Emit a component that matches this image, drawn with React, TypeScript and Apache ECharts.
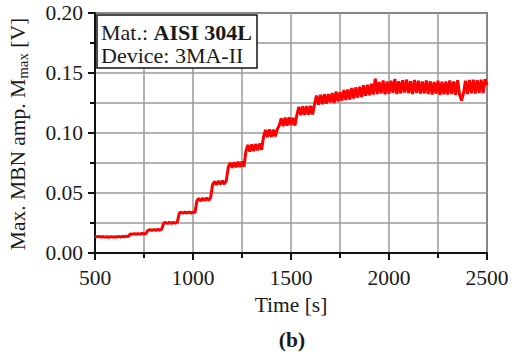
import React, { useEffect, useRef } from "react";
import * as echarts from "echarts";

// Time axis sampling: every 10 s from 500 s to 2500 s
const tStart = 500;
const tStep = 10;

// Max. MBN amplitude [V] (one row = 100 s)
const mmax: number[] = [
  0.0140, 0.0134, 0.0139, 0.0133, 0.0137, 0.0132, 0.0136, 0.0131, 0.0137, 0.0132,
  0.0136, 0.0132, 0.0138, 0.0133, 0.0139, 0.0134, 0.0141, 0.0136, 0.0159, 0.0155,
  0.0161, 0.0156, 0.0162, 0.0157, 0.0163, 0.0158, 0.0162, 0.0189, 0.0194, 0.0188,
  0.0195, 0.0189, 0.0196, 0.0190, 0.0197, 0.0248, 0.0254, 0.0246, 0.0255, 0.0247,
  0.0256, 0.0248, 0.0257, 0.0332, 0.0340, 0.0331, 0.0341, 0.0333, 0.0342, 0.0332,
  0.0341, 0.0336, 0.0435, 0.0455, 0.0433, 0.0458, 0.0436, 0.0460, 0.0438, 0.0462,
  0.0570, 0.0596, 0.0568, 0.0600, 0.0572, 0.0602, 0.0574, 0.0604, 0.0715, 0.0752,
  0.0710, 0.0756, 0.0714, 0.0760, 0.0716, 0.0762, 0.0720, 0.0848, 0.0900, 0.0846,
  0.0905, 0.0850, 0.0908, 0.0855, 0.0912, 0.0860, 0.0970, 0.1025, 0.0965, 0.1030,
  0.0968, 0.1028, 0.0972, 0.1032, 0.1062, 0.1122, 0.1058, 0.1128, 0.1062, 0.1130,
  0.1065, 0.1125, 0.1062, 0.1150, 0.1218, 0.1148, 0.1222, 0.1150, 0.1225, 0.1152,
  0.1226, 0.1155, 0.1240, 0.1312, 0.1236, 0.1318, 0.1240, 0.1322, 0.1245, 0.1325,
  0.1255, 0.1332, 0.1250, 0.1345, 0.1262, 0.1340, 0.1270, 0.1358, 0.1275, 0.1362,
  0.1280, 0.1375, 0.1288, 0.1380, 0.1295, 0.1385, 0.1300, 0.1398, 0.1310, 0.1402,
  0.1315, 0.1410, 0.1320, 0.1452, 0.1325, 0.1425, 0.1330, 0.1438, 0.1322, 0.1430,
  0.1328, 0.1435, 0.1335, 0.1450, 0.1325, 0.1432, 0.1330, 0.1440, 0.1338, 0.1445,
  0.1332, 0.1432, 0.1325, 0.1442, 0.1335, 0.1435, 0.1328, 0.1430, 0.1330, 0.1438,
  0.1325, 0.1432, 0.1320, 0.1425, 0.1328, 0.1435, 0.1318, 0.1428, 0.1322, 0.1430,
  0.1320, 0.1438, 0.1325, 0.1430, 0.1318, 0.1440, 0.1322, 0.1270, 0.1330, 0.1435,
  0.1325, 0.1442, 0.1330, 0.1445, 0.1328, 0.1440, 0.1335, 0.1445, 0.1332, 0.1448,
  0.1400,
];

const xTicks = { min: 500, max: 2500, interval: 500 };
const yTicks = { min: 0, max: 0.2, interval: 0.05 };

const FONT = "Liberation Serif";
const INK = "#1a1a1a";

export default function App() {
  const ref = useRef<HTMLDivElement>(null);
  useEffect(() => {
    if (!ref.current) return;
    const chart = echarts.init(ref.current, null, { renderer: "svg" });
    const data = mmax.map((v, i) => [tStart + i * tStep, v]);
    const gridLine = { show: true, lineStyle: { color: "#9a9a9a", width: 1.5 } };
    const tickStyle = { color: "#111", width: 2 };
    chart.setOption({
      animation: false,
      backgroundColor: "#ffffff",
      grid: {
        left: 95,
        right: 25,
        top: 13,
        bottom: 105,
        show: true,
        borderColor: "#111",
        borderWidth: 1.5,
      },
      xAxis: {
        type: "value",
        min: xTicks.min,
        max: xTicks.max,
        interval: xTicks.interval,
        axisLine: { show: true, onZero: false, lineStyle: { color: "#111", width: 2 } },
        axisTick: { show: true, length: 7, lineStyle: tickStyle },
        minorTick: { show: true, splitNumber: 2, length: 5, lineStyle: tickStyle },
        splitLine: gridLine,
        minorSplitLine: gridLine,
        axisLabel: {
          color: INK,
          fontFamily: FONT,
          fontSize: 21.5,
          margin: 14,
          formatter: (v: number) => String(v),
        },
        name: "Time [s]",
        nameLocation: "middle",
        nameGap: 38,
        nameTextStyle: { color: INK, fontFamily: FONT, fontSize: 21.5 },
      },
      yAxis: {
        type: "value",
        min: yTicks.min,
        max: yTicks.max,
        interval: yTicks.interval,
        axisLine: { show: true, onZero: false, lineStyle: { color: "#111", width: 2 } },
        axisTick: { show: true, length: 7, lineStyle: tickStyle },
        minorTick: { show: true, splitNumber: 2, length: 5, lineStyle: tickStyle },
        splitLine: gridLine,
        minorSplitLine: gridLine,
        axisLabel: {
          color: INK,
          fontFamily: FONT,
          fontSize: 21.5,
          margin: 12,
          formatter: (v: number) => v.toFixed(2),
        },
      },
      series: [
        {
          type: "line",
          data,
          showSymbol: false,
          symbol: "none",
          lineStyle: { color: "#ff0000", width: 3 },
          z: 3,
        },
      ],
      graphic: [
        {
          type: "text",
          x: 18,
          y: 134,
          rotation: Math.PI / 2,
          style: {
            text: "Max. MBN amp. M{sub|max} [V]",
            fontFamily: FONT,
            fontSize: 21.5,
            fill: INK,
            align: "center",
            verticalAlign: "middle",
            rich: {
              sub: { fontFamily: FONT, fontSize: 15, fill: INK, padding: [10, 0, 0, 0] },
            },
          },
          z: 100,
        },
        {
          type: "rect",
          shape: { x: 97, y: 15, width: 160, height: 53 },
          style: { fill: "#ffffff", stroke: "#111", lineWidth: 1.5 },
          z: 100,
        },
        {
          type: "text",
          x: 101,
          y: 32,
          style: {
            text: "Mat.: {b|AISI 304L}",
            fontFamily: FONT,
            fontSize: 22,
            fill: INK,
            verticalAlign: "middle",
            rich: { b: { fontFamily: FONT, fontSize: 22, fontWeight: "bold", fill: INK } },
          },
          z: 101,
        },
        {
          type: "text",
          x: 101,
          y: 55,
          style: {
            text: "Device: 3MA-II",
            fontFamily: FONT,
            fontSize: 22,
            fill: INK,
            verticalAlign: "middle",
          },
          z: 101,
        },
        {
          type: "text",
          x: 292,
          y: 340,
          style: {
            text: "(b)",
            fontFamily: FONT,
            fontSize: 21.5,
            fontWeight: "bold",
            fill: INK,
            align: "center",
            verticalAlign: "middle",
          },
          z: 100,
        },
      ],
    });
    return () => chart.dispose();
  }, []);
  return (
    <div
      ref={ref}
      style={{ position: "fixed", left: 0, top: 0, width: 512, height: 358 }}
    />
  );
}
